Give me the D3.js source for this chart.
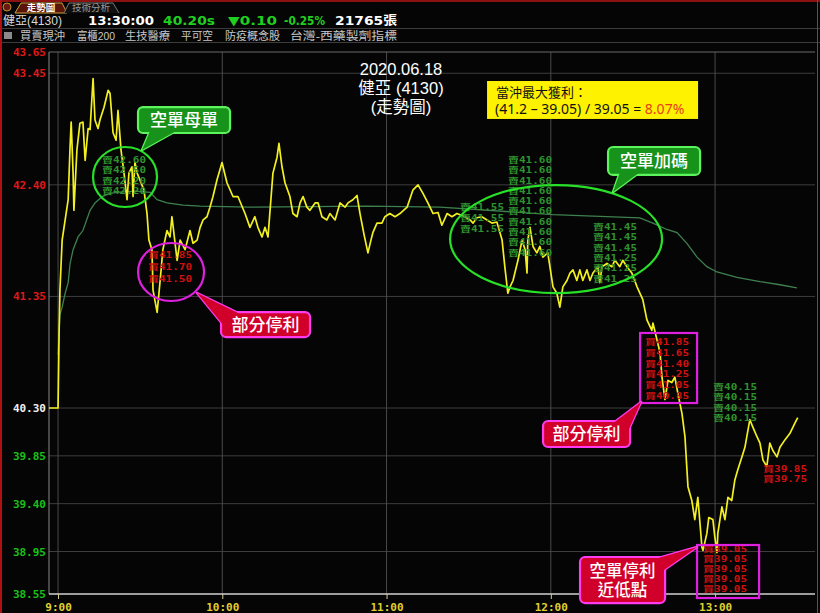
<!DOCTYPE html>
<html><head><meta charset="utf-8">
<script src="https://cdn.jsdelivr.net/npm/d3@7"></script>
<style>
html,body{margin:0;padding:0;background:#050505;}
svg{display:block;}
</style></head><body>
<svg id="chart" width="820" height="613"></svg>
<script>
// ---------------- DATA ----------------
// minutes after 09:00
const priceTimes = [-3.3,0,0.4,0.7,1.5,2.6,3.7,4.4,4.8,5.5,5.8,6.9,8.0,9.1,9.9,11.0,11.7,12.8,13.5,14.6,15.3,16.8,18.3,19.0,20.1,21.2,21.9,23.0,24.1,25.2,25.9,27.0,27.4,28.1,28.9,31.4,32.5,33.2,34.3,34.7,36.2,37.3,38.3,39.8,40.9,41.6,43.5,44.6,46.4,48.2,49.3,50.8,51.9,53.0,54.4,55.5,56.6,58.1,59.9,61.7,63.9,65.7,68.3,70.1,71.9,73.0,74.5,75.6,76.7,78.5,80.0,80.7,81.8,82.9,84.7,85.8,87.3,88.4,89.5,90.9,92.0,93.9,95.0,96.4,98.2,99.3,101.2,103.0,104.8,105.9,107.7,109.2,110.3,111.8,113.2,114.3,115.0,116.5,118.3,119.4,121.2,123.1,124.9,127.5,129.6,131.5,133.3,135.1,137.0,138.8,140.2,142.1,143.9,145.7,148.6,150.5,151.6,153.0,154.8,156.7,158.5,160.3,162.2,163.2,164.3,165.1,166.2,168.0,169.5,170.6,171.3,171.6,172.4,173.5,174.9,176.0,177.1,178.9,180.8,182.2,183.3,184.4,185.9,187.0,188.1,189.5,190.6,191.7,193.2,194.3,195.4,197.2,197.9,198.7,200.5,202.3,203.4,205.2,206.3,207.8,209.6,211.5,213.6,215.1,216.9,217.3,218.8,219.9,220.6,221.7,222.8,224.2,225.3,226.4,227.9,229.0,230.1,231.5,232.6,233.7,235.2,235.6,237.0,237.7,239.2,239.9,240.7,241.0,242.5,243.6,244.7,246.1,247.2,248.3,249.8,250.9,252.0,252.7,253.8,255.3,256.4,257.5,258.9,260.0,261.1,262.6,263.7,265.5,267.3,269.2,270.2];
const priceValues = [40.30,40.30,41.03,41.41,41.88,42.07,42.26,42.76,42.99,42.51,42.16,42.73,42.98,42.99,42.63,42.93,42.92,43.40,43.01,42.93,43.01,43.13,43.29,43.26,42.89,42.82,43.10,42.73,42.51,42.26,42.51,42.57,42.29,42.61,42.51,42.35,42.13,41.88,41.79,41.41,41.20,41.50,41.79,41.97,41.91,42.10,41.69,41.88,41.79,41.97,41.85,41.88,42.00,42.07,42.10,42.19,42.29,42.45,42.61,42.42,42.29,42.29,42.13,42.00,42.10,42.00,41.91,42.00,41.91,42.51,42.66,42.79,42.57,42.42,42.29,42.13,42.10,42.23,42.29,42.19,42.16,42.23,42.23,42.10,42.07,42.13,42.07,42.23,42.19,42.23,42.26,42.30,42.13,41.93,41.76,41.88,41.95,42.04,42.04,42.10,42.13,42.10,42.13,42.19,42.35,42.40,42.32,42.23,42.13,42.14,42.02,42.13,42.10,42.13,42.10,42.07,42.04,42.09,42.10,42.07,42.04,42.05,41.88,41.63,41.38,41.44,41.50,41.69,41.88,41.79,41.57,41.88,42.00,41.82,41.76,41.82,41.72,41.76,41.44,41.38,41.25,41.44,41.50,41.57,41.60,41.50,41.60,41.50,41.60,41.50,41.57,41.63,41.48,41.63,41.66,41.63,41.69,41.63,41.69,41.63,41.57,41.44,41.32,41.13,41.03,41.10,40.94,40.82,40.59,40.38,40.56,40.54,40.59,40.44,40.25,40.03,39.56,39.43,39.25,39.46,38.99,38.96,39.12,39.27,39.25,39.09,38.94,39.12,39.37,39.25,39.46,39.43,39.62,39.72,39.84,39.93,40.09,40.19,40.12,40.03,39.97,39.81,39.75,39.97,39.90,39.84,39.93,40.00,40.06,40.16,40.21];
const avgTimes = [0,0.7,1.5,2.6,3.7,4.4,5.5,7.3,9.1,11.7,13.5,16.1,19.0,21.6,28.1,33.6,36.2,39.8,45.7,51.9,70.1,112.8,139.5,180.8,212.5,217.3,222.4,226.1,229.7,233.4,237.0,240.7,248.0,256.4,263.7,269.9];
const avgValues = [40.80,41.18,41.25,41.38,41.48,41.66,41.79,41.91,41.97,42.16,42.23,42.29,42.32,42.33,42.34,42.33,42.26,42.23,42.21,42.20,42.19,42.20,42.19,42.12,42.09,42.04,41.98,41.95,41.85,41.72,41.63,41.58,41.53,41.49,41.46,41.43];
const yTicks = [43.65,43.45,42.40,41.35,40.30,39.85,39.40,38.95,38.55];
const refPrice = 40.30;
const hourTicks = [0,60,120,180,240];
const hourLabels = ["9:00","10:00","11:00","12:00","13:00"];
const titleLines = ["2020.06.18","健亞 (4130)","(走勢圖)"];
const profitLines = ["當沖最大獲利：","(41.2 – 39.05) / 39.05 = ","8.07%"];
const headerQuote = [["健亞(4130)","#d8d8d8"],["13:30:00","#ffffff"],["40.20s","#20d020"],["▼0.10","#20d020"],["-0.25%","#20d020"],["21765張","#ffffff"]];
const headerTags = ["買賣現沖","富櫃200","生技醫療","平可空","防疫概念股","台灣-西藥製劑指標"];
const tabs = ["走勢圖","技術分析"];
// trade-label stacks
const stackS1 = ["賣42.60","賣42.50","賣42.20","賣42.20"];
const stackS2 = ["買41.85","買41.70","買41.50"];
const stackS3a = ["賣41.60","賣41.60","賣41.60","賣41.60","賣41.60","賣41.60","賣41.60","賣41.60","賣41.60","賣41.60"];
const stackS3b = ["賣41.55","賣41.55","賣41.55"];
const stackS3c = ["賣41.45","賣41.45","賣41.45","賣41.25","賣41.25","賣41.25"];
const stackS4 = ["買41.85","買41.65","買41.40","買41.25","買41.05","買40.85"];
const stackS5 = ["賣40.15","賣40.15","賣40.15","賣40.15"];
const stackS6 = ["買39.85","買39.75"];
const stackS7 = ["買39.05","買39.05","買39.05","買39.05","買39.05"];

// ---------------- SETUP ----------------
const W = 820, H = 613;
const svg = d3.select('#chart');
svg.append('rect').attr('width', W).attr('height', H).attr('fill', '#050505');
const x = d3.scaleLinear().domain([-3.3, 276.5]).range([49, 815]);
const y = d3.scaleLinear().domain([38.55, 43.65]).range([594, 52]);
const MONO = '"DejaVu Sans Mono","Noto Sans CJK TC",monospace';
const CJK = '"Liberation Sans","Noto Sans CJK TC",sans-serif';

// ---------------- HEADER ----------------
const hdr = svg.append('g');
hdr.append('rect').attr('x', 0).attr('y', 0).attr('width', W).attr('height', 2).attr('fill', '#8c1212');
hdr.append('circle').attr('cx', 7).attr('cy', 7).attr('r', 4).attr('fill', '#6a1a10').attr('stroke', '#c09030').attr('stroke-width', 1);
hdr.append('path').attr('d', 'M15,13 L21,3 L62,3 L67,13 Z').attr('fill', '#5a1408').attr('stroke', '#c8a040').attr('stroke-width', 1);
hdr.append('path').attr('d', 'M64,13 L69,3 L113,3 L119,13').attr('fill', '#111').attr('stroke', '#777').attr('stroke-width', 1);
hdr.append('text').attr('x', 41).attr('y', 11).attr('text-anchor', 'middle').attr('font-family', CJK).attr('font-size', 9.5).attr('font-weight', 700).attr('fill', '#ffffff').text(tabs[0]);
hdr.append('text').attr('x', 91).attr('y', 11).attr('text-anchor', 'middle').attr('font-family', CJK).attr('font-size', 9.5).attr('fill', '#9a9a9a').text(tabs[1]);
hdr.append('rect').attr('x', 0).attr('y', 28).attr('width', W).attr('height', 1).attr('fill', '#3c3c3c');
hdr.append('rect').attr('x', 0).attr('y', 42).attr('width', W).attr('height', 1).attr('fill', '#3c3c3c');
const quoteX = [3, 88, 163, 228, 284, 335];
const quoteW = [59, 66, 52, 49, 41, 62];
headerQuote.forEach((q, i) => {
  hdr.append('text').attr('x', quoteX[i]).attr('y', 25)
    .attr('font-family', i === 0 ? CJK : '"DejaVu Sans","Noto Sans CJK TC",sans-serif')
    .attr('font-size', i === 0 ? 12 : 12.5).attr('font-weight', i === 0 ? 400 : 700)
    .attr('textLength', quoteW[i]).attr('lengthAdjust', 'spacingAndGlyphs')
    .attr('fill', q[1]).text(q[0]);
});
hdr.append('rect').attr('x', 4).attr('y', 32).attr('width', 8).attr('height', 7).attr('fill', '#8a8a8a');
const tagX = [20, 77, 125, 181, 225, 290];
const tagW = [45, 38, 45, 32, 55, 107];
headerTags.forEach((t, i) => {
  hdr.append('text').attr('x', tagX[i]).attr('y', 39.5).attr('font-family', CJK).attr('font-size', 11)
    .attr('textLength', tagW[i]).attr('lengthAdjust', 'spacingAndGlyphs').attr('fill', '#c8c8c8').text(t);
});
svg.append('rect').attr('x', 0).attr('y', 0).attr('width', 2).attr('height', H).attr('fill', '#b01010');
svg.append('rect').attr('x', 817).attr('y', 0).attr('width', 1).attr('height', H).attr('fill', '#555');

// ---------------- GRID / AXES ----------------
const grid = svg.append('g');
grid.selectAll('line.h').data(yTicks.slice(1, -1)).join('line')
  .attr('x1', 49).attr('x2', 815).attr('y1', d => y(d)).attr('y2', d => y(d))
  .attr('stroke', '#3e3e3e').attr('stroke-width', 1);
grid.selectAll('line.v').data(hourTicks).join('line')
  .attr('x1', d => x(d)).attr('x2', d => x(d)).attr('y1', y(43.65)).attr('y2', y(38.55))
  .attr('stroke', '#4a4a4a').attr('stroke-width', 1);
grid.append('line').attr('x1', 49).attr('x2', 815).attr('y1', y(43.65)).attr('y2', y(43.65)).attr('stroke', '#6a6a6a');
grid.append('line').attr('x1', 49).attr('x2', 49).attr('y1', y(43.65)).attr('y2', y(38.55)).attr('stroke', '#8a8a8a');
grid.append('line').attr('x1', 49).attr('x2', 815).attr('y1', y(38.55)).attr('y2', y(38.55)).attr('stroke', '#d0d0d0').attr('stroke-width', 1.5);

const yAxis = svg.append('g').attr('transform', 'translate(47,0)')
  .call(d3.axisLeft(y).tickValues(yTicks).tickSize(0).tickPadding(1).tickFormat(d3.format('.2f')));
yAxis.select('.domain').remove();
yAxis.selectAll('text').attr('font-family', MONO).attr('font-size', 11).attr('font-weight', 700)
  .attr('fill', d => d > refPrice + 1e-9 ? '#e01818' : (Math.abs(d - refPrice) < 1e-9 ? '#f0f0f0' : '#18c018'));

const xAxis = svg.append('g').attr('transform', `translate(0,${y(38.55)})`)
  .call(d3.axisBottom(x).tickValues(hourTicks).tickSize(5).tickPadding(4).tickFormat((d, i) => hourLabels[i]));
xAxis.select('.domain').remove();
xAxis.selectAll('line').attr('stroke', '#d8d090');
xAxis.selectAll('text').attr('font-family', MONO).attr('font-size', 11).attr('font-weight', 700).attr('fill', '#e0d030');

// ---------------- LINES ----------------
const line = d3.line().x(d => x(d[0])).y(d => y(d[1]));
svg.append('path').datum(avgTimes.map((t, i) => [t, avgValues[i]]))
  .attr('d', line).attr('fill', 'none').attr('stroke', '#3f8050').attr('stroke-width', 1.3);
svg.append('path').datum(priceTimes.map((t, i) => [t, priceValues[i]]))
  .attr('d', line).attr('fill', 'none').attr('stroke', '#f2f020').attr('stroke-width', 1.7).attr('stroke-linejoin', 'round');

// ---------------- TITLE ----------------
const titleY = [75, 94, 113];
titleLines.forEach((t, i) => {
  svg.append('text').attr('x', 401).attr('y', titleY[i]).attr('text-anchor', 'middle')
    .attr('font-family', CJK).attr('font-size', 16.5).attr('fill', '#ffffff').text(t);
});

// ---------------- ANNOTATIONS ----------------
const GREEN_T = '#2f922f', RED_T = '#d01010';
function stack(t, p, labels, step, color) {
  const g = svg.append('g');
  labels.forEach((s, i) => g.append('text').attr('x', x(t)).attr('y', y(p) + i * step)
    .attr('font-family', MONO).attr('font-size', 8.5).attr('font-weight', 700)
    .attr('textLength', 44).attr('lengthAdjust', 'spacingAndGlyphs')
    .attr('fill', color).text(s));
}
stack(16.07, 42.606, stackS1, 10.5, GREEN_T);
stack(32.88, 41.712, stackS2, 12, RED_T);
stack(146.85, 42.163, stackS3b, 11, GREEN_T);
stack(164.38, 42.606, stackS3a, 10.3, GREEN_T);
stack(195.43, 41.975, stackS3c, 10.3, GREEN_T);
stack(214.43, 40.893, stackS4, 10.8, RED_T);
stack(239.27, 40.470, stackS5, 10.3, GREEN_T);
stack(257.53, 39.698, stackS6, 10.5, RED_T);
stack(235.62, 38.945, stackS7, 10, RED_T);

function ellipse(t, p, rx, ry, color) {
  svg.append('ellipse').attr('cx', x(t)).attr('cy', y(p)).attr('rx', rx).attr('ry', ry)
    .attr('fill', 'none').attr('stroke', color).attr('stroke-width', 2.2);
}
ellipse(24.47, 42.474, 32, 30, '#28e028');
ellipse(41.28, 41.580, 33, 29, '#e020e0');
ellipse(181.92, 41.890, 106, 54, '#28e028');

function hiRect(t0, t1, p0, p1, color) {
  svg.append('rect').attr('x', x(t0)).attr('y', y(p0)).attr('width', x(t1) - x(t0)).attr('height', y(p1) - y(p0))
    .attr('fill', 'none').attr('stroke', color).attr('stroke-width', 2.2);
}
hiRect(212.60, 233.42, 41.006, 40.347, '#e020e0');
hiRect(233.42, 256.07, 39.011, 38.512, '#e020e0');

function callout(t0, t1, p0, p1, tip, base, lines, fill, stroke) {
  const g = svg.append('g');
  const rx0 = x(t0), ry0 = y(p0), w = x(t1) - x(t0), h = y(p1) - y(p0);
  const tri = [[x(tip[0]), y(tip[1])], [x(base[0][0]), y(base[0][1])], [x(base[1][0]), y(base[1][1])]];
  const triD = 'M' + tri.map(d => d.join(',')).join('L') + 'Z';
  g.append('path').attr('d', triD).attr('fill', fill).attr('stroke', stroke).attr('stroke-width', 2.5).attr('stroke-linejoin', 'round');
  g.append('rect').attr('x', rx0).attr('y', ry0).attr('width', w).attr('height', h).attr('rx', 5)
    .attr('fill', fill).attr('stroke', stroke).attr('stroke-width', 2.2);
  g.append('path').attr('d', triD).attr('fill', fill);
  const cx = rx0 + w / 2;
  const lh = 19;
  const startY = ry0 + h / 2 - (lines.length - 1) * lh / 2 + 6;
  lines.forEach((s, i) => g.append('text').attr('x', cx).attr('y', startY + i * lh).attr('text-anchor', 'middle')
    .attr('font-family', CJK).attr('font-size', lines.length > 1 ? 16.5 : 17).attr('font-weight', 500).attr('fill', '#ffffff').text(s));
}
const G_FILL = '#17921a', G_STROKE = '#5cf55c', R_FILL = '#d0002a', R_STROKE = '#ff3cf0';
callout(29.22, 62.83, 43.132, 42.888, [30.68, 42.728], [[33.61, 42.907], [43.11, 42.907]], ["空單母單"], G_FILL, G_STROKE);
callout(59.54, 92.05, 41.203, 40.968, [50.78, 41.382], [[66.48, 41.185], [60.64, 41.072]], ["部分停利"], R_FILL, R_STROKE);
callout(200.91, 234.52, 42.756, 42.493, [202.74, 42.333], [[205.3, 42.521], [212.6, 42.521]], ["空單加碼"], G_FILL, G_STROKE);
callout(177.17, 208.95, 40.178, 39.933, [212.97, 40.357], [[202.4, 40.150], [207.9, 40.065]], ["部分停利"], R_FILL, R_STROKE);
callout(190.68, 221.74, 38.898, 38.465, [233.42, 38.992], [[215.53, 38.860], [220.27, 38.757]], ["空單停利", "近低點"], R_FILL, R_STROKE);

// yellow profit box
const yb = svg.append('g');
yb.append('rect').attr('x', x(156.71)).attr('y', y(43.377)).attr('width', x(233.79) - x(156.71)).attr('height', y(43.020) - y(43.377))
  .attr('fill', '#fff200');
yb.append('text').attr('x', x(156.71) + 9).attr('y', y(43.377) + 16).attr('font-family', CJK).attr('font-size', 13).attr('fill', '#111').text(profitLines[0]);
const t2 = yb.append('text').attr('x', x(156.71) + 8).attr('y', y(43.377) + 33).attr('font-family', '"Noto Sans","Noto Sans CJK TC",sans-serif').attr('font-size', 14).attr('fill', '#111');
t2.append('tspan').text(profitLines[1]);
t2.append('tspan').attr('fill', '#e8401c').text(profitLines[2]);
</script></body></html>
